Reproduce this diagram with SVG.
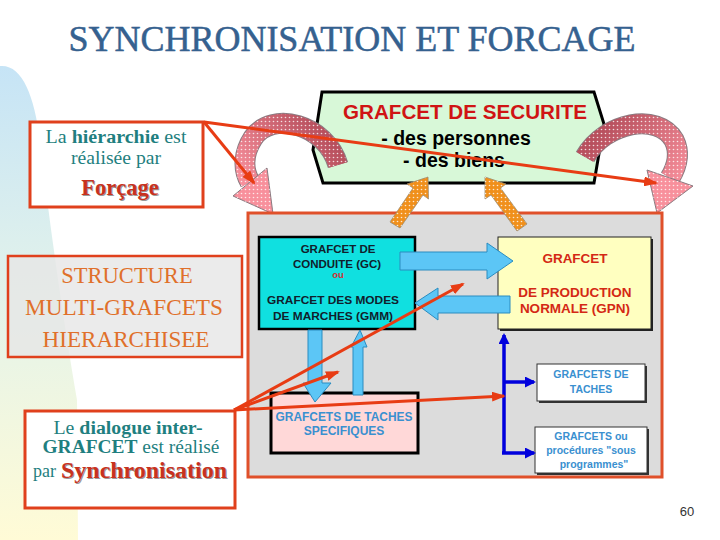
<svg xmlns="http://www.w3.org/2000/svg" width="720" height="540" viewBox="0 0 720 540">
<defs>
<style>
.serif{font-family:"Liberation Serif","Times New Roman",serif;}
.sans{font-family:"Liberation Sans",Arial,sans-serif;font-weight:bold;}
.redline{stroke:#e83c14;stroke-width:3;fill:none;marker-end:url(#redHead);}
.blueline{stroke:#0000dd;stroke-width:3.5;fill:none;}
.lb{fill:#5cc6f6;stroke:#2a8cc0;stroke-width:1;}
.orange{fill:#f0901c;stroke:#9a8a70;stroke-width:0.8;}
.teal{fill:#1f7f80;}
</style>
<linearGradient id="bgGrad" x1="0" y1="0" x2="0" y2="1">
<stop offset="0" stop-color="#c6e4f6"/>
<stop offset="0.5" stop-color="#e4f3ea"/>
<stop offset="1" stop-color="#fffbd6"/>
</linearGradient>
<pattern id="dots" width="4" height="4" patternUnits="userSpaceOnUse"><circle cx="1.5" cy="1.5" r="0.8" fill="#ffffff" fill-opacity="0.8"/></pattern>
<linearGradient id="gradL" gradientUnits="userSpaceOnUse" x1="330" y1="140" x2="255" y2="200">
<stop offset="0" stop-color="#b8505e"/><stop offset="1" stop-color="#f8909c"/></linearGradient>
<linearGradient id="gradR" gradientUnits="userSpaceOnUse" x1="595" y1="140" x2="670" y2="200">
<stop offset="0" stop-color="#b8505e"/><stop offset="1" stop-color="#f8909c"/></linearGradient>
<marker id="redHead" viewBox="0 0 14 10" refX="12" refY="5" markerWidth="14" markerHeight="10" markerUnits="userSpaceOnUse" orient="auto"><path d="M0,0 L14,5 L0,10 z" fill="#e83c14"/></marker>
<marker id="blueHead" viewBox="0 0 11 11" refX="9" refY="5.5" markerWidth="11" markerHeight="11" markerUnits="userSpaceOnUse" orient="auto"><path d="M0,0 L11,5.5 L0,11 z" fill="#0000dd"/></marker>
</defs>

<rect width="720" height="540" fill="#ffffff"/>
<path id="background" d="M0,66 C22,64 34,95 40,140 C50,230 65,330 77,400 L78,540 L0,540 Z" fill="url(#bgGrad)"/>

<text id="title" class="serif" x="352" y="51" font-size="35" fill="#35618f" stroke="#35618f" stroke-width="0.5" text-anchor="middle" textLength="567" lengthAdjust="spacingAndGlyphs">SYNCHRONISATION ET FORCAGE</text>

<g id="box-forcage">
<rect x="30" y="122" width="173" height="85" fill="#ffffff" stroke="#e0401c" stroke-width="3"/>
<text class="serif teal" x="116" y="143" font-size="18.5" text-anchor="middle" textLength="141" lengthAdjust="spacingAndGlyphs">La <tspan font-weight="bold">hiérarchie</tspan> est</text>
<text class="serif teal" x="116" y="164" font-size="18.5" text-anchor="middle" textLength="90" lengthAdjust="spacingAndGlyphs">réalisée par</text>
<text class="serif" x="121" y="196" font-size="22.5" font-weight="bold" fill="#9a9a9a" text-anchor="middle">Forçage</text>
<text class="serif" x="120" y="195" font-size="22.5" font-weight="bold" fill="#c8321e" text-anchor="middle">Forçage</text>
</g>

<g id="box-structure">
<rect x="8" y="256" width="234" height="101" fill="#e6e6e6" fill-opacity="0.8" stroke="#e0401c" stroke-width="2.5"/>
<text class="serif" x="127" y="283" font-size="22.5" fill="#e0702a" text-anchor="middle">STRUCTURE</text>
<text class="serif" x="124" y="315" font-size="22.5" fill="#e0702a" text-anchor="middle" textLength="198" lengthAdjust="spacingAndGlyphs">MULTI-GRAFCETS</text>
<text class="serif" x="126" y="347" font-size="22.5" fill="#e0702a" text-anchor="middle" textLength="167" lengthAdjust="spacingAndGlyphs">HIERARCHISEE</text>
</g>

<g id="box-synchro">
<rect x="25" y="411" width="210" height="97" fill="#ffffff" stroke="#e0401c" stroke-width="3"/>
<text class="serif teal" x="128" y="434" font-size="18" text-anchor="middle" textLength="149" lengthAdjust="spacingAndGlyphs">Le <tspan font-weight="bold">dialogue inter-</tspan></text>
<text class="serif teal" x="131" y="453" font-size="18" text-anchor="middle" textLength="177" lengthAdjust="spacingAndGlyphs"><tspan font-weight="bold">GRAFCET</tspan> est réalisé</text>
<text class="serif teal" x="33" y="477" font-size="18">par</text>
<text class="serif" x="62" y="479" font-size="23" font-weight="bold" fill="#9a9a9a" textLength="166" lengthAdjust="spacingAndGlyphs">Synchronisation</text>
<text class="serif" x="61" y="478" font-size="23" font-weight="bold" fill="#c8321e" textLength="166" lengthAdjust="spacingAndGlyphs">Synchronisation</text>
</g>

<g id="securite">
<polygon points="322,92 594,92 604,124 594,183 323,183 313,150" fill="#d8f8d8" stroke="#000000" stroke-width="3" stroke-linejoin="miter"/>
<text class="sans" x="465" y="119" font-size="20" fill="#d01414" text-anchor="middle" textLength="244" lengthAdjust="spacingAndGlyphs">GRAFCET DE SECURITE</text>
<text class="sans" x="456" y="145" font-size="19.5" fill="#000000" text-anchor="middle">- des personnes</text>
<text class="sans" x="454" y="167" font-size="19.5" fill="#000000" text-anchor="middle">- des biens</text>
</g>

<g id="curved-arrows">
<path d="M338,165 C326,124 272,110 253,138 C244,152 242,168 250,182" fill="none" stroke="#8a7a80" stroke-width="21"/>
<path d="M338,165 C326,124 272,110 253,138 C244,152 242,168 250,182" fill="none" stroke="url(#gradL)" stroke-width="19"/>
<path d="M338,165 C326,124 272,110 253,138 C244,152 242,168 250,182" fill="none" stroke="url(#dots)" stroke-width="19"/>
<polygon points="267,168 233,196 273,214" fill="#f8909c" stroke="#8a7a80" stroke-width="1"/>
<polygon points="267,168 233,196 273,214" fill="url(#dots)"/>
<path d="M585,157 C605,122 658,112 674,140 C681,154 676,168 670,178" fill="none" stroke="#8a7a80" stroke-width="21"/>
<path d="M585,157 C605,122 658,112 674,140 C681,154 676,168 670,178" fill="none" stroke="url(#gradR)" stroke-width="19"/>
<path d="M585,157 C605,122 658,112 674,140 C681,154 676,168 670,178" fill="none" stroke="url(#dots)" stroke-width="19"/>
<polygon points="693,186 647,170 657,213" fill="#f8909c" stroke="#8a7a80" stroke-width="1"/>
<polygon points="693,186 647,170 657,213" fill="url(#dots)"/>
</g>

<g id="panel">
<rect x="248" y="213" width="414" height="264" fill="#dcdcdc" stroke="#e0502a" stroke-width="3"/>
</g>

<g id="orange-arrows">
<polygon class="orange" points="390,222 413,188 407,184 428,177 428.5,199 423,195 400,228"/>
<polygon points="390,222 413,188 407,184 428,177 428.5,199 423,195 400,228" fill="url(#dots)"/>
<polygon class="orange" points="517,231 491,195 485,199 485,177 506,184 500.5,188 527,224"/>
<polygon points="517,231 491,195 485,199 485,177 506,184 500.5,188 527,224" fill="url(#dots)"/>
</g>

<g id="gc">
<rect x="259" y="237" width="156" height="92" fill="#10e0e0" stroke="#000000" stroke-width="2.5"/>
<text class="sans" x="338" y="253" font-size="11.5" fill="#10202c" text-anchor="middle">GRAFCET DE</text>
<text class="sans" x="337" y="268" font-size="11.5" fill="#10202c" text-anchor="middle">CONDUITE  (GC)</text>
<text class="sans" x="338" y="278" font-size="9.5" fill="#d03030" text-anchor="middle">ou</text>
<text class="sans" x="333" y="304" font-size="11.5" fill="#10202c" text-anchor="middle" textLength="132" lengthAdjust="spacingAndGlyphs">GRAFCET DES MODES</text>
<text class="sans" x="333" y="320" font-size="11.5" fill="#10202c" text-anchor="middle" textLength="120" lengthAdjust="spacingAndGlyphs">DE MARCHES (GMM)</text>
</g>

<g id="gpn">
<rect x="500" y="239" width="153" height="92" fill="#222222"/>
<rect x="498" y="237" width="153" height="92" fill="#ffffc0" stroke="#222222" stroke-width="1"/>
<text class="sans" x="575" y="263" font-size="13.5" fill="#d42814" text-anchor="middle">GRAFCET</text>
<text class="sans" x="575" y="297" font-size="13.5" fill="#d42814" text-anchor="middle">DE PRODUCTION</text>
<text class="sans" x="575" y="313" font-size="13.5" fill="#d42814" text-anchor="middle">NORMALE (GPN)</text>
</g>

<g id="taches-specifiques">
<rect x="271" y="393" width="147" height="60" fill="#ffd8d8" stroke="#000000" stroke-width="3"/>
<text class="sans" x="344" y="421" font-size="12" fill="#3a90d0" text-anchor="middle" textLength="137" lengthAdjust="spacingAndGlyphs">GRAFCETS DE TACHES</text>
<text class="sans" x="344" y="435" font-size="12" fill="#3a90d0" text-anchor="middle">SPECIFIQUES</text>
</g>

<g id="taches">
<rect x="539" y="366" width="108" height="37" fill="#333333"/>
<rect x="537" y="364" width="108" height="37" fill="#ffffff" stroke="#333333" stroke-width="1"/>
<text class="sans" x="591" y="378" font-size="10.5" fill="#3a90d0" text-anchor="middle">GRAFCETS DE</text>
<text class="sans" x="591" y="393" font-size="10.5" fill="#3a90d0" text-anchor="middle">TACHES</text>
</g>

<g id="sous-programmes">
<rect x="537" y="429" width="112" height="46" fill="#333333"/>
<rect x="535" y="427" width="112" height="46" fill="#ffffff" stroke="#333333" stroke-width="1"/>
<text class="sans" x="591" y="440" font-size="10.5" fill="#3a90d0" text-anchor="middle">GRAFCETS ou</text>
<text class="sans" x="591" y="454" font-size="10.5" fill="#3a90d0" text-anchor="middle">procédures "sous</text>
<text class="sans" x="594" y="468" font-size="10.5" fill="#3a90d0" text-anchor="middle">programmes"</text>
</g>

<text id="page-number" x="687" y="516" font-family="'Liberation Sans',Arial,sans-serif" font-size="13" fill="#333333" text-anchor="middle">60</text>

<g id="connectors">
<polygon class="lb" points="400,252 487,252 487,243 513,261 487,279 487,270 400,270"/>
<polygon class="lb" points="510,296 438,296 438,288 415,303 438,320 438,313 510,313"/>
<polygon class="lb" points="308,330 322,330 322,383 331,383 315,402 303,383 308,383"/>
<polygon class="lb" points="353,395 363,395 363,347 367,347 360,330 351,347 353,347"/>
<path class="blueline" d="M504,453 V335" marker-end="url(#blueHead)"/>
<path class="blueline" d="M504,382 H534" marker-end="url(#blueHead)"/>
<path class="blueline" d="M502,453 H534" marker-end="url(#blueHead)"/>
<line class="redline" x1="204" y1="122" x2="656" y2="183"/>
<line class="redline" x1="204" y1="122" x2="254" y2="183"/>
<line class="redline" x1="234" y1="410" x2="463" y2="284"/>
<line class="redline" x1="234" y1="410" x2="338" y2="372"/>
<line class="redline" x1="234" y1="410" x2="504" y2="396"/>
</g>
</svg>
